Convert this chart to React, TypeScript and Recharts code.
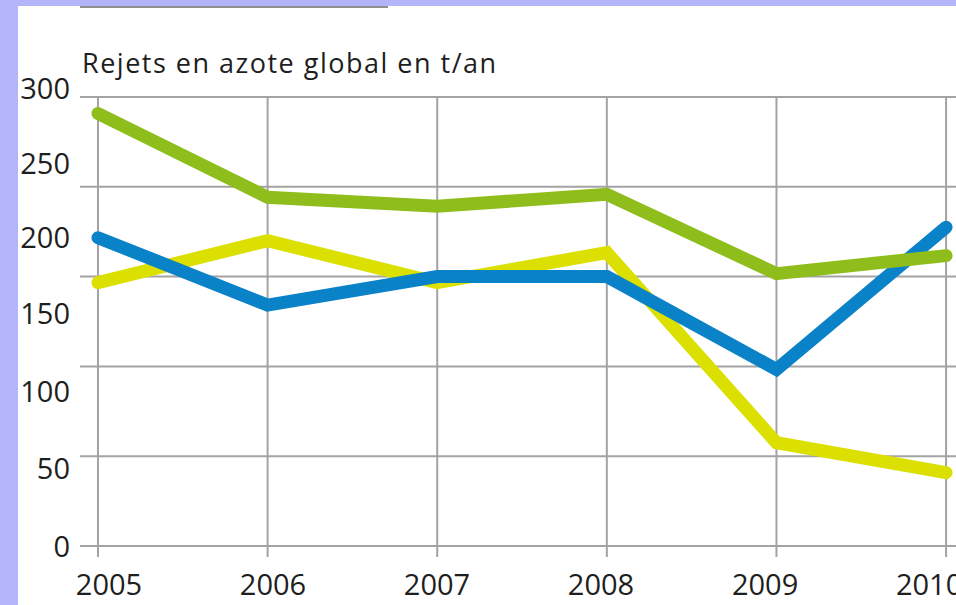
import { CartesianGrid, Line, LineChart, XAxis, YAxis } from 'recharts'

const years = [2005, 2006, 2007, 2008, 2009, 2010]
const vert = [289, 233, 227, 235, 182, 194]
const bleu = [206, 161, 180, 180, 118, 213]
const jaune = [176, 204, 176, 196, 69, 49]
const yTicks = [0, 50, 100, 150, 200, 250, 300]
const gridValues = [0, 60, 120, 180, 240, 300]

const data = years.map((annee, i) => ({
  annee,
  vert: vert[i],
  bleu: bleu[i],
  jaune: jaune[i],
}))

const FONT = '"Open Sans", "Noto Sans", sans-serif'
const GRID = '#a3a3a3'

// les libellés de l'original ne tombent pas pile sur les graduations
function XTick({ x, y, payload }: any) {
  const shift = 11 - (payload.value - 2005) * 5.6
  return (
    <text x={x + shift} y={y} dy="0.71em" textAnchor="middle" fontSize={29} fill="#1e1e1e" fontFamily={FONT}>
      {payload.value}
    </text>
  )
}

function YTick({ x, y, payload }: any) {
  const shift = 1 - Math.min(9.5, payload.value * 0.06)
  return (
    <text x={x} y={y + shift} dy="0.355em" textAnchor="end" fontSize={29} fill="#1e1e1e" fontFamily={FONT}>
      {payload.value}
    </text>
  )
}

export default function App() {
  return (
    <div
      style={{
        position: 'fixed',
        left: 0,
        top: 0,
        width: 956,
        height: 605,
        overflow: 'hidden',
        background: '#b4b4fb',
        fontFamily: FONT,
      }}
    >
      <div style={{ position: 'absolute', left: 18, top: 6, right: 0, bottom: 0, background: '#fff' }} />
      <div style={{ position: 'absolute', left: 80, top: 6, width: 308, height: 2, background: '#8f8f8f' }} />
      <div
        style={{
          position: 'absolute',
          left: 82,
          top: 44,
          fontSize: 27,
          letterSpacing: 1.5,
          color: '#1e1e1e',
          whiteSpace: 'nowrap',
        }}
      >
        Rejets en azote global en t/an
      </div>
      <div style={{ position: 'absolute', left: 0, top: 0 }}>
        <LineChart width={1000} height={605} data={data} margin={{ top: 97, right: 20, bottom: 0, left: 0 }}>
          <CartesianGrid
            stroke={GRID}
            strokeWidth={2}
            horizontalValues={gridValues}
            verticalValues={years}
          />
          <XAxis
            dataKey="annee"
            type="number"
            domain={[2004.894, 2010.2]}
            ticks={years}
            height={59}
            tickSize={11}
            tickMargin={17}
            stroke={GRID}
            strokeWidth={2}
            tick={<XTick />}
          />
          <YAxis
            type="number"
            domain={[0, 300]}
            ticks={yTicks}
            width={80}
            axisLine={false}
            tickLine={false}
            tickSize={0}
            tickMargin={10}
            tick={<YTick />}
          />
          <Line dataKey="jaune" stroke="#dbe000" strokeWidth={13} strokeLinecap="round" dot={false} isAnimationActive={false} />
          <Line dataKey="bleu" stroke="#0a82c8" strokeWidth={13} strokeLinecap="round" dot={false} isAnimationActive={false} />
          <Line dataKey="vert" stroke="#8fbe1c" strokeWidth={13} strokeLinecap="round" dot={false} isAnimationActive={false} />
        </LineChart>
      </div>
    </div>
  )
}
